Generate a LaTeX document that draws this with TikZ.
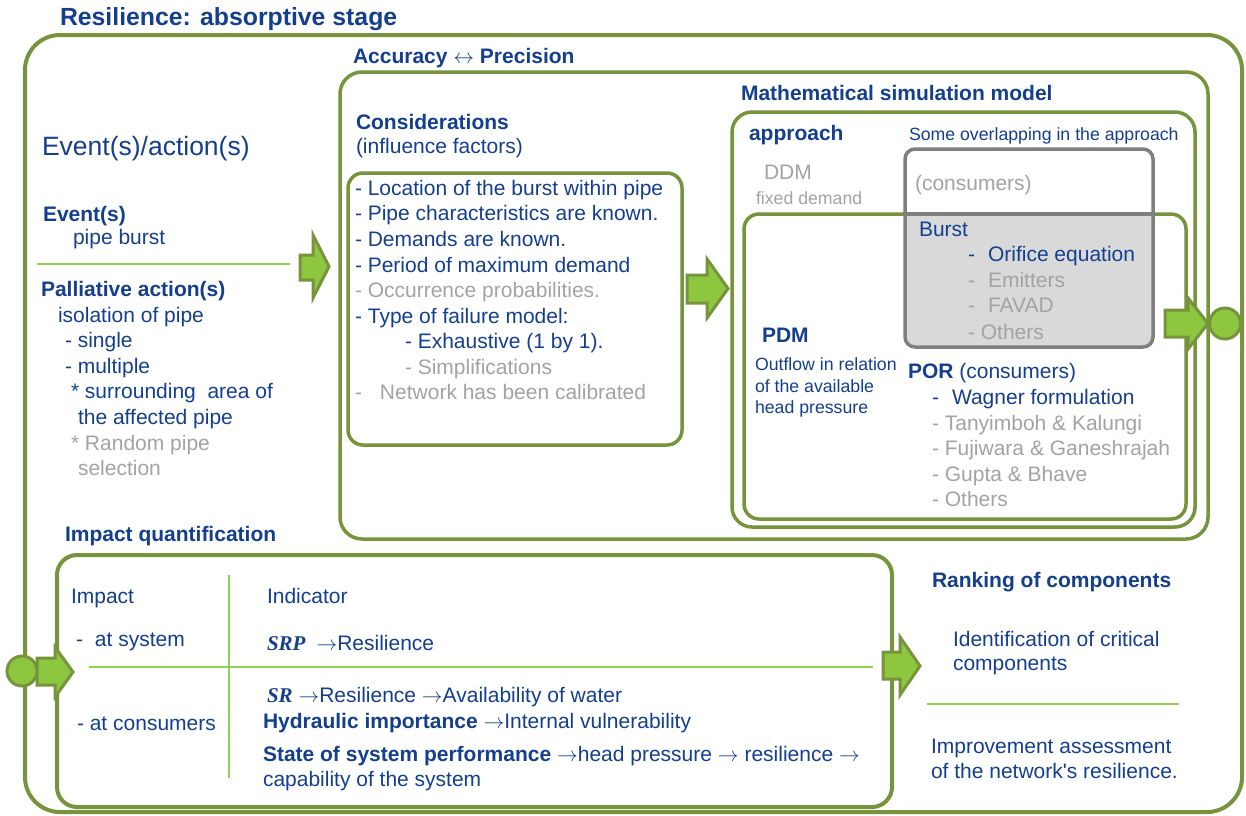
\documentclass[tikz,border=0pt]{standalone}
\usepackage{fontspec}
\setmainfont{Liberation Sans}
\newfontfamily\serifbi{Liberation Serif}
\definecolor{dblue}{HTML}{143F8F}
\definecolor{lgray}{HTML}{A3A3A3}
\definecolor{olive}{HTML}{77933C}
\definecolor{lgreen}{HTML}{92D050}
\definecolor{afill}{HTML}{8DC63F}
\definecolor{gbox}{HTML}{7F7F7F}
\definecolor{gfill}{HTML}{D9D9D9}
\tikzset{
  txt/.style={anchor=base west, inner sep=0pt, outer sep=0pt, text=dblue, font=\fontsize{21}{25}\selectfont},
  gtxt/.style={txt, text=lgray},
  hd/.style={txt, font=\fontsize{21}{25}\selectfont\bfseries},
  sm/.style={txt, font=\fontsize{17.7}{21}\selectfont},
  gsm/.style={sm, text=lgray},
  frame/.style={draw=olive, line width=#1, rectangle, inner sep=0pt, outer sep=0pt},
  sepline/.style={draw=lgreen, line width=2pt},
  barrow/.style={fill=afill, draw=olive, line width=3pt, line join=miter},
  dot/.style={circle, fill=afill, draw=olive, line width=3pt, inner sep=0pt, minimum size=30pt},
}
\newcommand{\mbi}[1]{{\serifbi\bfseries\itshape #1}}
\newcommand{\rarr}{\ensuremath{\rightarrow}}
\newcommand{\lrarr}{\ensuremath{\leftrightarrow}}
\begin{document}
\begin{tikzpicture}[x=1pt,y=-1pt]
\useasboundingbox (0,0) rectangle (1246,815);
\fill[white] (0,0) rectangle (1246,815);

% frames
\node[frame=4pt, rounded corners=35pt, minimum width=1217pt, minimum height=777pt] (outer) at (633.5,423.5) {};
\node[frame=3.5pt, rounded corners=22pt, minimum width=868pt, minimum height=467pt] (acc) at (774,305.5) {};
\node[frame=3.5pt, rounded corners=15pt, minimum width=334pt, minimum height=272pt] (cons) at (515,309) {};
\node[frame=3.5pt, rounded corners=20pt, minimum width=463pt, minimum height=415pt] (math) at (963.5,319.5) {};
\node[frame=3.5pt, rounded corners=15pt, minimum width=442pt, minimum height=305pt] (pdm) at (965,366.5) {};
\node[frame=4pt, rounded corners=20pt, minimum width=835pt, minimum height=252pt] (imp) at (474.5,681) {};

% gray overlap box
\begin{scope}
  \clip (900,214) rectangle (1160,352);
  \fill[gfill, rounded corners=10pt] (905,149) rectangle (1153,347);
\end{scope}
\node[draw=gbox, line width=3.5pt, rounded corners=10pt, minimum width=248pt, minimum height=198pt, inner sep=0pt] (gray) at (1029,248) {};
\draw[gbox, line width=3.5pt] (gray.west |- 0,214) -- (gray.east |- 0,214);

% separator lines
\coordinate (s1a) at (37,264); \coordinate (s1b) at (290,264);
\draw[sepline] (s1a) -- (s1b);
\coordinate (s2a) at (229,575); \coordinate (s2b) at (229,778);
\draw[sepline] (s2a) -- (s2b);
\coordinate (s3a) at (89,667); \coordinate (s3b) at (873,667);
\draw[sepline] (s3a) -- (s3b);
\coordinate (s4a) at (927,704); \coordinate (s4b) at (1179,704);
\draw[sepline] (s4a) -- (s4b);

% block arrows
\draw[barrow] (300,255) -- (313,255) -- (313,235) -- (329,266.5) -- (313,298) -- (313,280) -- (300,280) -- cycle;
\draw[barrow] (687,275) -- (707,275) -- (707,259) -- (728,288.5) -- (707,318) -- (707,303) -- (687,303) -- cycle;
\draw[barrow] (1165,310) -- (1188,310) -- (1188,298) -- (1208,323.5) -- (1188,349) -- (1188,337) -- (1165,337) -- cycle;
\draw[barrow] (37,658) -- (55,658) -- (55,647) -- (73,672) -- (55,697) -- (55,685) -- (37,685) -- cycle;
\draw[barrow] (883,652) -- (900,652) -- (900,637) -- (920,666) -- (900,695) -- (900,679) -- (883,679) -- cycle;
\node[dot, minimum size=31pt] (cR) at (1225,323.5) {};
\node[dot] (cL) at (22,671) {};

% titles
\node[txt, font=\fontsize{24.8}{30}\selectfont\bfseries] (title) at (60,25) {Resilience: absorptive stage};
\node[txt, font=\fontsize{26.5}{31}\selectfont] (evact) at (42,155) {Event(s)/action(s)};

% left column
\node[hd] (ev) at (43,221.5) {Event(s)};
\node[txt] (ev1) at (73,244) {pipe burst};
\node[hd] (pal) at (41,296.5) {Palliative action(s)};
\node[txt] (pal1) at (58,322) {isolation of pipe};
\node[txt] (pal2) at (65,347) {- single};
\node[txt] (pal3) at (65,373) {- multiple};
\node[txt] (pal4) at (71,398) {* surrounding\ \ area of};
\node[txt] (pal5) at (78,424) {the affected pipe};
\node[gtxt] (pal6) at (71,450) {* Random pipe};
\node[gtxt] (pal7) at (78,475.5) {selection};

% considerations
\node[hd] (acct) at (353,63) {Accuracy \lrarr{} Precision};
\node[hd] (const) at (356,129) {Considerations};
\node[txt] (cons0) at (356,153.5) {(influence factors)};
\node[txt] (c1) at (355,195) {- Location of the burst within pipe};
\node[txt] (c2) at (355,220.7) {- Pipe characteristics are known.};
\node[txt] (c3) at (355,246.3) {- Demands are known.};
\node[txt] (c4) at (355,272) {- Period of maximum demand};
\node[gtxt] (c5) at (355,297.5) {- Occurrence probabilities.};
\node[txt] (c6) at (355,323) {- Type of failure model:};
\node[txt] (c7) at (405,348.5) {- Exhaustive (1 by 1).};
\node[gtxt] (c8) at (405,374) {- Simplifications};
\node[gtxt] (c9) at (355,399.7) {-\hspace{18pt}Network has been calibrated};

% math model
\node[hd] (matht) at (741,100) {Mathematical simulation model};
\node[hd] (appr) at (749,140) {approach};
\node[sm] (overlap) at (909,140) {Some overlapping in the approach};
\node[gtxt] (ddm) at (764,179) {DDM};
\node[gsm] (fixed) at (756,204) {fixed demand};
\node[gtxt] (consg) at (915,190) {(consumers)};
\node[txt] (burst) at (919,236) {Burst};
\node[txt] (b1) at (968,261.7) {-\hspace{13pt}Orifice equation};
\node[gtxt] (b2) at (968,287.7) {-\hspace{13pt}Emitters};
\node[gtxt] (b3) at (968,312.7) {-\hspace{13pt}FAVAD};
\node[gtxt] (b4) at (968,339) {- Others};
\node[hd] (pdmt) at (762,342.7) {PDM};
\node[sm] (out1) at (755,370.7) {Outflow in relation};
\node[sm] (out2) at (755,392) {of the available};
\node[sm] (out3) at (755,413) {head pressure};
\node[txt] (por) at (908,378) {\textbf{POR} (consumers)};
\node[txt] (w1) at (932,404) {-\hspace{13pt}Wagner formulation};
\node[gtxt] (w2) at (932,430) {- Tanyimboh \& Kalungi};
\node[gtxt] (w3) at (932,455.7) {- Fujiwara \& Ganeshrajah};
\node[gtxt] (w4) at (932,481) {- Gupta \& Bhave};
\node[gtxt] (w5) at (932,506.7) {- Others};

% impact quantification
\node[hd] (impq) at (65,541) {Impact quantification};
\node[txt] (impt) at (71,603) {Impact};
\node[txt] (imp1) at (76,646) {-\hspace{12pt}at system};
\node[txt] (imp2) at (77,730) {- at consumers};
\node[txt] (ind) at (267,603) {Indicator};
\node[txt] (i1) at (267,650) {\mbi{SRP}\hspace{11pt}\rarr{}Resilience};
\node[txt] (i2) at (267,702.7) {\mbi{SR} \rarr{}Resilience \rarr{}Availability of water};
\node[txt] (i3) at (263,728) {\textbf{Hydraulic importance} \rarr{}Internal vulnerability};
\node[txt] (i4) at (263,761.7) {\textbf{State of system performance} \rarr{}head pressure \rarr{} resilience \rarr};
\node[txt] (i5) at (263,786.7) {capability of the system};

% ranking
\node[hd] (rank) at (932,587) {Ranking of components};
\node[txt] (r1) at (953,646) {Identification of critical};
\node[txt] (r2) at (953,670) {components};
\node[txt] (r3) at (931,753) {Improvement assessment};
\node[txt] (r4) at (931,778) {of the network\textquotesingle s resilience.};
\end{tikzpicture}
\end{document}
